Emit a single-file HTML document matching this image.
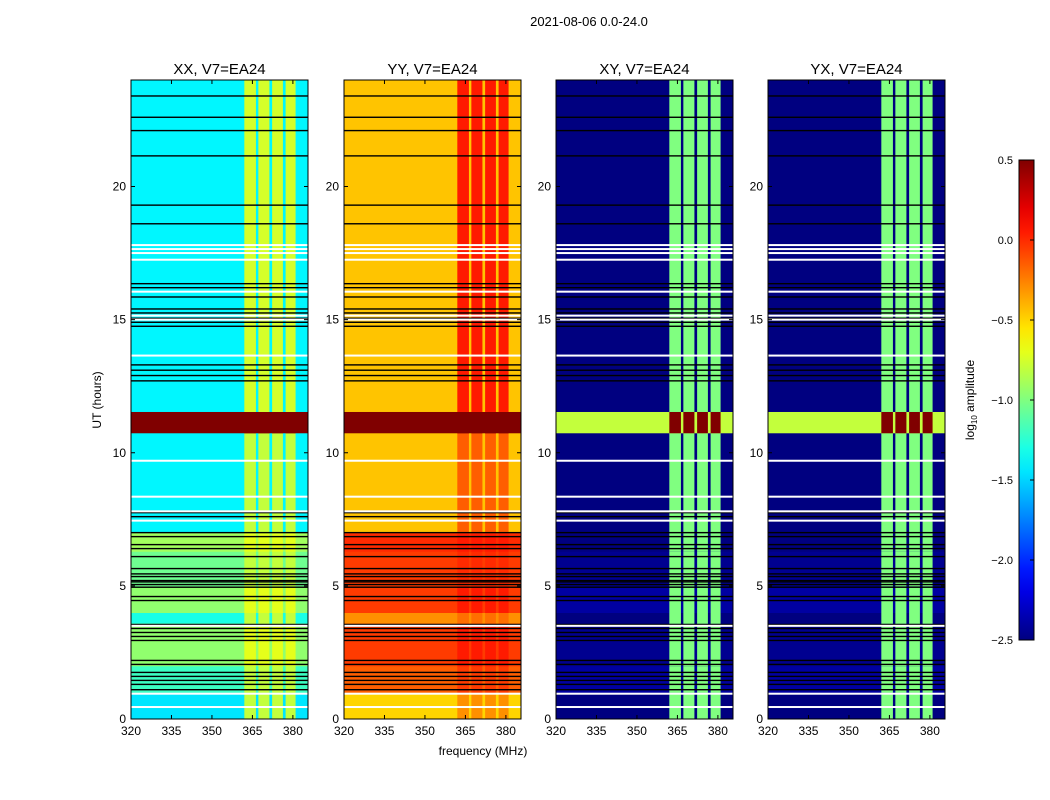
<!DOCTYPE html>
<html><head><meta charset="utf-8"><style>
body{margin:0;background:#fff;}
svg{display:block;font-family:"Liberation Sans",sans-serif;}
</style></head><body>
<svg id="fig" width="1050" height="800" viewBox="0 0 1050 800">
<rect width="1050" height="800" fill="#fff"/>
<text x="589" y="26" font-size="13" text-anchor="middle">2021-08-06 0.0-24.0</text>
<text x="483" y="755" font-size="12" text-anchor="middle">frequency (MHz)</text>
<text transform="translate(101,400) rotate(-90)" font-size="12" text-anchor="middle">UT (hours)</text>
<g id="panels"></g>
<g id="cbar"></g>
</svg>
<script>
// ---- data ----
const panelTitles = ["XX, V7=EA24","YY, V7=EA24","XY, V7=EA24","YX, V7=EA24"];
const segStart = [0,1,2,3.6,4,5,6.3,7,10.75,11.55];
const segEnd   = [1,2,3.6,4,5,6.3,7,10.75,11.55,24];
const xxBase = [-1.45,-1.2,-0.95,-1.3,-0.95,-1.05,-0.9,-1.4,0.5,-1.4];
const yyBase = [-0.5,-0.15,-0.05,-0.3,-0.05,-0.05,0.0,-0.45,0.5,-0.45];
const xyBase = [-2.5,-2.4,-2.45,-2.5,-2.4,-2.45,-2.5,-2.5,-0.8,-2.5];
const yxBase = [-2.5,-2.4,-2.45,-2.5,-2.4,-2.45,-2.5,-2.5,-0.8,-2.5];
const xxRfi = [-0.8,-0.8,-0.7,-0.8,-0.7,-0.8,-0.7,-0.8,0.5,-0.75];
const yyRfi = [-0.3,-0.05,0.05,-0.2,0.05,0.0,0.05,-0.15,0.5,0.05];
const xyRfi = [-1.0,-1.0,-1.0,-1.0,-1.0,-1.0,-1.0,-1.0,0.5,-1.0];
const yxRfi = [-1.0,-1.0,-1.0,-1.0,-1.0,-1.0,-1.0,-1.0,0.5,-1.0];
const rfiStart = [362,367.2,372.3,377.3];
const rfiEnd   = [366.3,371.3,376.3,381];
const blackLines = [23.4,22.6,22.1,21.15,19.3,18.6,16.35,16.2,15.85,15.4,15.25,15.05,14.9,14.75,13.3,13.1,12.9,12.7,7.75,7.6,7.0,6.85,6.55,6.4,6.1,5.65,5.45,5.35,5.2,5.15,5.05,4.95,4.6,4.45,3.55,3.4,3.25,3.1,2.95,2.2,2.05,1.75,1.6,1.45,1.3,1.1];
const whiteLines = [17.8,17.65,17.5,17.25,16.05,15.15,15.0,13.65,9.7,8.35,7.8,7.45,3.5,0.95,0.45];
const xTicks = [320,335,350,365,380];
const yTicks = [0,5,10,15,20];
const cbTicks = [0.5,0.0,-0.5,-1.0,-1.5,-2.0,-2.5];
const cbTickLabels = ["0.5","0.0","\u22120.5","\u22121.0","\u22121.5","\u22122.0","\u22122.5"];
// ---- layout ----
const panelX = [131,344,556,768], PW=177, PT=80, PB=719;
const fMin=320, fMax=385.6, tMin=0, tMax=24, vMin=-2.5, vMax=0.5;
const NS="http://www.w3.org/2000/svg";
function el(t,a,p){const e=document.createElementNS(NS,t);for(const k in a)e.setAttribute(k,a[k]);p.appendChild(e);return e;}
function jet(v){let t=(v-vMin)/(vMax-vMin);t=Math.max(0,Math.min(1,t));
 const c=x=>Math.round(255*Math.max(0,Math.min(1,x)));
 return `rgb(${c(1.5-Math.abs(4*t-3))},${c(1.5-Math.abs(4*t-2))},${c(1.5-Math.abs(4*t-1))})`;}
const yS=h=>PB-(h-tMin)/(tMax-tMin)*(PB-PT);
const bases=[xxBase,yyBase,xyBase,yxBase], rfis=[xxRfi,yyRfi,xyRfi,yxRfi];
const G=document.getElementById('panels');
panelX.forEach((x0,p)=>{
 const xS=f=>x0+(f-fMin)/(fMax-fMin)*PW;
 const g=el('g',{},G);
 
 
 for(let i=0;i<segStart.length;i++){
  const y1=yS(segEnd[i]),y2=yS(segStart[i]);
  const r=el('rect',{x:x0,y:y1,width:PW,height:y2-y1+0.5,fill:jet(bases[p][i])},g);
  
  
  for(let b=0;b<rfiStart.length;b++){
   const c=el('rect',{x:xS(rfiStart[b]),y:y1,width:xS(rfiEnd[b])-xS(rfiStart[b]),height:y2-y1+0.5,fill:jet(rfis[p][i])},g);
   
   
  }
 }
 blackLines.forEach(h=>{const l=el('rect',{x:x0,y:yS(h)-0.7,width:PW,height:1.4,fill:'#000'},g);
  
  });
 whiteLines.forEach(h=>{const l=el('rect',{x:x0,y:yS(h)-1,width:PW,height:2,fill:'#fff'},g);
  
  });
 el('rect',{x:x0,y:PT,width:PW,height:PB-PT,fill:'none',stroke:'#000','stroke-width':1},g);
 const t=el('text',{x:x0+PW/2,y:74,'font-size':15,'text-anchor':'middle'},g);t.textContent=panelTitles[p];
 
 
 xTicks.forEach(v=>{const x=xS(v);
  el('line',{x1:x,x2:x,y1:PB,y2:PB-4,stroke:'#000'},g);el('line',{x1:x,x2:x,y1:PT,y2:PT+4,stroke:'#000'},g);
  const tx=el('text',{x:x,y:PB+16,'font-size':12,'text-anchor':'middle'},g);tx.textContent=v;
  
  });
 yTicks.forEach(v=>{const y=yS(v);
  el('line',{x1:x0,x2:x0+4,y1:y,y2:y,stroke:'#000'},g);el('line',{x1:x0+PW,x2:x0+PW-4,y1:y,y2:y,stroke:'#000'},g);
  const ty=el('text',{x:x0-5,y:y+4,'font-size':12,'text-anchor':'end'},g);ty.textContent=v;
  
  });
});
// colorbar
const C=document.getElementById('cbar');


const cbX=1019,cbW=15,cbT=160,cbB=640;
const cS=v=>cbB-(v-vMin)/(vMax-vMin)*(cbB-cbT);
const defs=el('defs',{},C);const lg=el('linearGradient',{id:'jetg',x1:0,y1:1,x2:0,y2:0},defs);
for(let i=0;i<=20;i++){el('stop',{offset:i/20,'stop-color':jet(vMin+i/20*(vMax-vMin))},lg);}
el('rect',{x:cbX,y:cbT,width:cbW,height:cbB-cbT,fill:'url(#jetg)',stroke:'#000'},C);
cbTicks.forEach((v,i)=>{const y=cS(v);
 el('line',{x1:cbX+cbW-4,x2:cbX+cbW,y1:y,y2:y,stroke:'#000'},C);
 const t=el('text',{x:1013,y:y+4,'font-size':11,'text-anchor':'end'},C);t.textContent=cbTickLabels[i];
 
 });
const cl=el('text',{transform:'translate(974,400) rotate(-90)','font-size':12,'text-anchor':'middle'},C);
cl.innerHTML='log<tspan font-size="8" dy="3">10</tspan><tspan dy="-3"> amplitude</tspan>';


</script>
</body></html>
